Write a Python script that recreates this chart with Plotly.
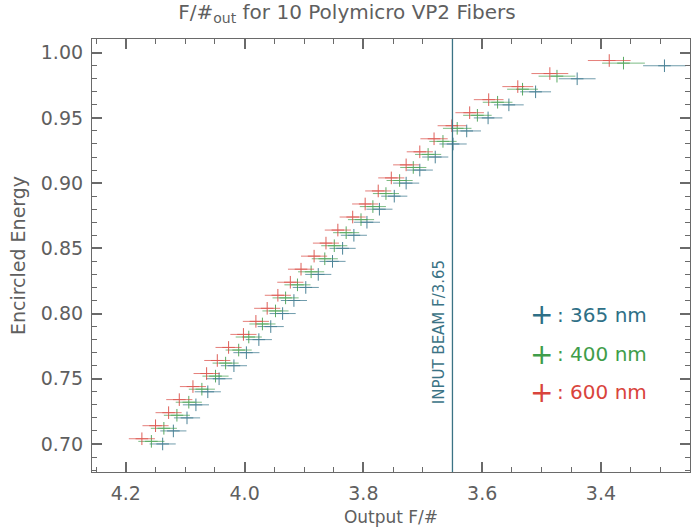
import plotly.graph_objects as go

# Encircled-energy levels (y) and output F/# (x)
ee_levels = [0.70, 0.71, 0.72, 0.73, 0.74, 0.75, 0.76, 0.77, 0.78, 0.79,
             0.80, 0.81, 0.82, 0.83, 0.84, 0.85, 0.86, 0.87, 0.88, 0.89,
             0.90, 0.91, 0.92, 0.93, 0.94, 0.95, 0.96, 0.97, 0.98, 0.99]

f_600 = [4.173, 4.150, 4.128, 4.110, 4.087, 4.064, 4.046, 4.027, 4.002, 3.981,
         3.962, 3.944, 3.923, 3.905, 3.883, 3.863, 3.843, 3.818, 3.797, 3.775,
         3.753, 3.728, 3.705, 3.681, 3.651, 3.621, 3.589, 3.540, 3.486, 3.386]

f_400 = [4.157, 4.136, 4.114, 4.094, 4.072, 4.049, 4.032, 4.010, 3.993, 3.970,
         3.948, 3.931, 3.911, 3.888, 3.865, 3.849, 3.829, 3.804, 3.784, 3.762,
         3.739, 3.716, 3.691, 3.666, 3.642, 3.608, 3.574, 3.532, 3.474, 3.362]

f_365 = [4.138, 4.120, 4.097, 4.082, 4.062, 4.043, 4.018, 3.997, 3.976, 3.956,
         3.936, 3.917, 3.897, 3.876, 3.852, 3.835, 3.816, 3.794, 3.773, 3.748,
         3.728, 3.705, 3.679, 3.649, 3.626, 3.590, 3.555, 3.510, 3.440, 3.293]

f_err = [0.022, 0.022, 0.022, 0.022, 0.022, 0.022, 0.022, 0.022, 0.022, 0.022,
         0.022, 0.022, 0.022, 0.022, 0.022, 0.022, 0.022, 0.022, 0.022, 0.022,
         0.022, 0.022, 0.022, 0.023, 0.024, 0.024, 0.025, 0.026, 0.031, 0.036]

# small vertical stagger used in the original so the series do not overlap
y_shift = {"365 nm": 0.0, "400 nm": 0.002, "600 nm": 0.004}

series = [
    ("365 nm", f_365, "#2e6f86"),
    ("400 nm", f_400, "#3f9d4a"),
    ("600 nm", f_600, "#d9443c"),
]

INPUT_BEAM_F = 3.65

x_ticks = [4.2, 4.0, 3.8, 3.6, 3.4]
x_ticklabels = ["4.2", "4.0", "3.8", "3.6", "3.4"]
y_ticks = [0.70, 0.75, 0.80, 0.85, 0.90, 0.95, 1.00]
y_ticklabels = ["0.70", "0.75", "0.80", "0.85", "0.90", "0.95", "1.00"]

FONT = "DejaVu Sans"
GRAY = "#5f5f5f"
AXIS = "#6a6a6a"

fig = go.Figure()
for name, fx, col in series:
    fig.add_trace(go.Scatter(
        x=fx,
        y=[v + y_shift[name] for v in ee_levels],
        mode="markers",
        name=name,
        opacity=0.85,
        marker=dict(symbol="cross-thin", size=9,
                    line=dict(color=col, width=1), color=col),
        error_x=dict(type="data", array=f_err, visible=True,
                     color=col, thickness=0.8, width=0),
        showlegend=False,
    ))

fig.add_shape(type="line", x0=INPUT_BEAM_F, x1=INPUT_BEAM_F, y0=0, y1=1,
              xref="x", yref="paper",
              line=dict(color="#3b7385", width=1.3))

fig.add_annotation(x=INPUT_BEAM_F, y=0.786, xref="x", yref="y",
                   text="INPUT BEAM F/3.65", textangle=-90,
                   showarrow=False, xanchor="right", yanchor="middle",
                   xshift=-3,
                   font=dict(family=FONT, size=15, color="#3b7385"))

legend_rows = [(": 365 nm", "#2e6f86", 0.363), (": 400 nm", "#3f9d4a", 0.272),
               (": 600 nm", "#d9443c", 0.184)]
for txt, col, yp in legend_rows:
    fig.add_annotation(x=0.751, y=yp, xref="paper", yref="paper",
                       text="+", showarrow=False, xanchor="center",
                       yanchor="middle",
                       font=dict(family=FONT, size=28, color=col))
    fig.add_annotation(x=0.774, y=yp, xref="paper", yref="paper",
                       text=txt, showarrow=False, xanchor="left",
                       yanchor="middle",
                       font=dict(family=FONT, size=20, color=col))

axis_common = dict(
    showline=True, linecolor=AXIS, linewidth=1.2, mirror="ticks",
    ticks="inside", ticklen=10, tickcolor=AXIS, tickwidth=1.5,
    showticklabels=True,
    showgrid=False, zeroline=False, automargin=False,
    ticklabelstandoff=4,
    tickfont=dict(family=FONT, size=19, color=GRAY),
)

fig.update_xaxes(
    range=[4.257, 3.25], tickvals=x_ticks, ticktext=x_ticklabels,
    minor=dict(dtick=0.05, tick0=4.2, ticks="inside", ticklen=5,
               tickcolor=AXIS, tickwidth=1.2, showgrid=False),
    title=dict(text="Output F/#", font=dict(family=FONT, size=17, color=GRAY),
               standoff=11),
    **axis_common)
fig.update_yaxes(
    range=[0.6785, 1.0105], tickvals=y_ticks, ticktext=y_ticklabels,
    minor=dict(dtick=0.01, tick0=0.70, ticks="inside", ticklen=5,
               tickcolor=AXIS, tickwidth=1.2, showgrid=False),
    title=dict(text="Encircled Energy", font=dict(family=FONT, size=19, color=GRAY),
               standoff=10),
    **axis_common)

fig.update_layout(
    width=694, height=527,
    margin=dict(l=92, r=4, t=39, b=55),
    paper_bgcolor="white", plot_bgcolor="white",
    title=dict(text="F/#<sub>out</sub> for 10 Polymicro VP2 Fibers",
               x=0.5, xanchor="center", y=0.99, yanchor="top",
               font=dict(family=FONT, size=20, color=GRAY)),
)

fig.write_html(
    "out.html",
    config={"displayModeBar": False},
    post_script="document.body.style.margin='0';document.body.style.padding='0';",
)
